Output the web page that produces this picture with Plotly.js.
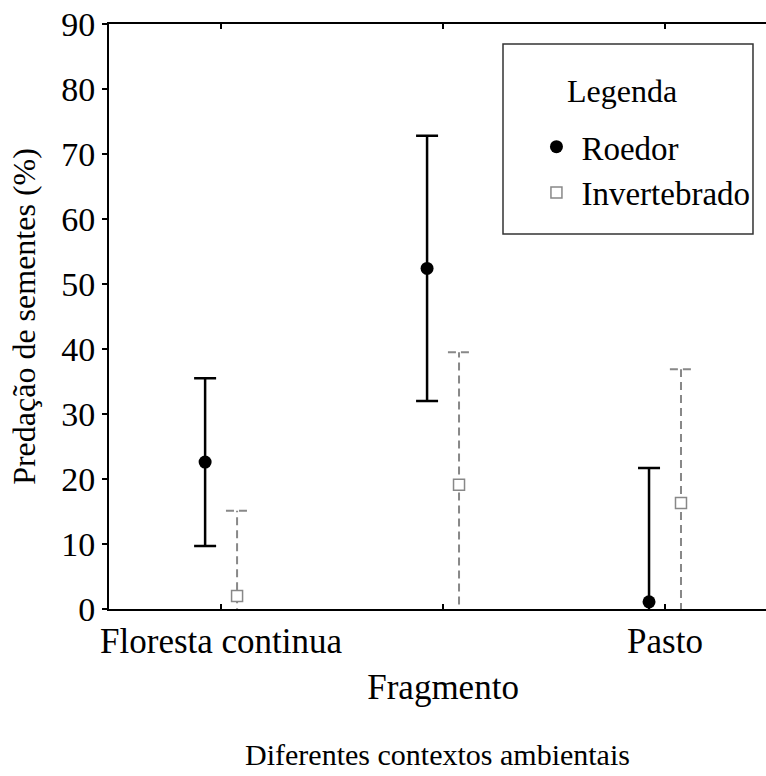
<!DOCTYPE html>
<html>
<head>
<meta charset="utf-8">
<script src="https://cdn.plot.ly/plotly-3.0.1.min.js"></script>
<style>html,body{margin:0;padding:0;background:#fff;overflow:hidden}</style>
</head>
<body>
<div id="chart" style="width:766px;height:776px"></div>
<script>
// Data
const categories = ['Floresta continua', 'Fragmento', 'Pasto'];
const tickLabels = ['Floresta continua', '<br>Fragmento', 'Pasto'];
const roedorMean = [22.6, 52.4, 1.1];
const roedorErr = [12.9, 20.4, 20.6];
const invertMean = [2.0, 19.1, 16.3];
const invertErr = [13.1, 20.4, 20.6];

const FONT = '"Liberation Serif", "Times New Roman", serif';
const off = 0.072;
const capHalf = 0.05;
const idx = categories.map((c, i) => i);

// dashed whiskers for Invertebrado built from data
const wx = [], wy = [];
idx.forEach(i => {
  const x = i + off, lo = invertMean[i] - invertErr[i], hi = invertMean[i] + invertErr[i];
  wx.push(x, x, null, x - capHalf, x + capHalf, null, x - capHalf, x + capHalf, null);
  wy.push(lo, hi, null, hi, hi, null, lo, lo, null);
});

const traces = [
  {
    name: 'Roedor', x: idx.map(i => i - off), y: roedorMean, type: 'scatter', mode: 'markers',
    marker: {symbol: 'circle', size: 13, color: 'black'},
    error_y: {type: 'data', array: roedorErr, visible: true, color: 'black', thickness: 2.5, width: 11}
  },
  {
    x: wx, y: wy, type: 'scatter', mode: 'lines', showlegend: false, hoverinfo: 'skip',
    line: {color: '#888888', width: 2, dash: '8px,5px'}
  },
  {
    name: 'Invertebrado', x: idx.map(i => i + off), y: invertMean, type: 'scatter', mode: 'markers',
    marker: {symbol: 'square', size: 11, color: 'white', line: {color: '#888888', width: 1.5}}
  }
];

const layout = {
  width: 766, height: 776,
  margin: {l: 109, r: 0, t: 24, b: 167},
  paper_bgcolor: 'white', plot_bgcolor: 'white',
  font: {family: FONT, size: 30, color: 'black'},
  showlegend: true,
  legend: {
    x: 0.643, y: 0.838, xanchor: 'left', yanchor: 'top',
    borderwidth: 0, bgcolor: 'rgba(0,0,0,0)', itemwidth: 40,
    font: {family: FONT, size: 33, color: 'black'}
  },
  shapes: [
    {type: 'rect', xref: 'paper', yref: 'paper', x0: 0.5997, x1: 0.9802, y0: 0.641, y1: 0.9658,
     line: {color: '#333', width: 1.5}, fillcolor: 'rgba(0,0,0,0)', layer: 'below'}
  ],
  annotations: [
    {text: 'Legenda', xref: 'paper', yref: 'paper', x: 0.781, y: 0.8855, xanchor: 'center', yanchor: 'middle',
     showarrow: false, font: {family: FONT, size: 32, color: 'black'}}
  ],
  xaxis: {
    range: [-0.505, 2.455], tickmode: 'array', tickvals: idx, ticktext: tickLabels,
    ticks: 'inside', ticklen: 5, tickwidth: 2, tickcolor: 'black',
    showline: true, linewidth: 2, linecolor: 'black', mirror: 'ticks',
    showgrid: false, zeroline: false,
    tickfont: {family: FONT, size: 35, color: 'black'},
    title: {text: 'Diferentes contextos ambientais', font: {family: FONT, size: 30, color: 'black'}, standoff: 38}
  },
  yaxis: {
    range: [0, 90], tickmode: 'array', tickvals: [0,10,20,30,40,50,60,70,80,90],
    ticks: 'outside', ticklen: 5, tickwidth: 1.5, tickcolor: 'black',
    showline: true, linewidth: 2, linecolor: 'black', mirror: false,
    showgrid: false, zeroline: false,
    tickfont: {family: FONT, size: 34, color: 'black'},
    title: {text: 'Predação de sementes (%)', font: {family: FONT, size: 32, color: 'black'}, standoff: 16}
  }
};

Plotly.newPlot('chart', traces, layout, {displayModeBar: false, staticPlot: true});
</script>
</body>
</html>
